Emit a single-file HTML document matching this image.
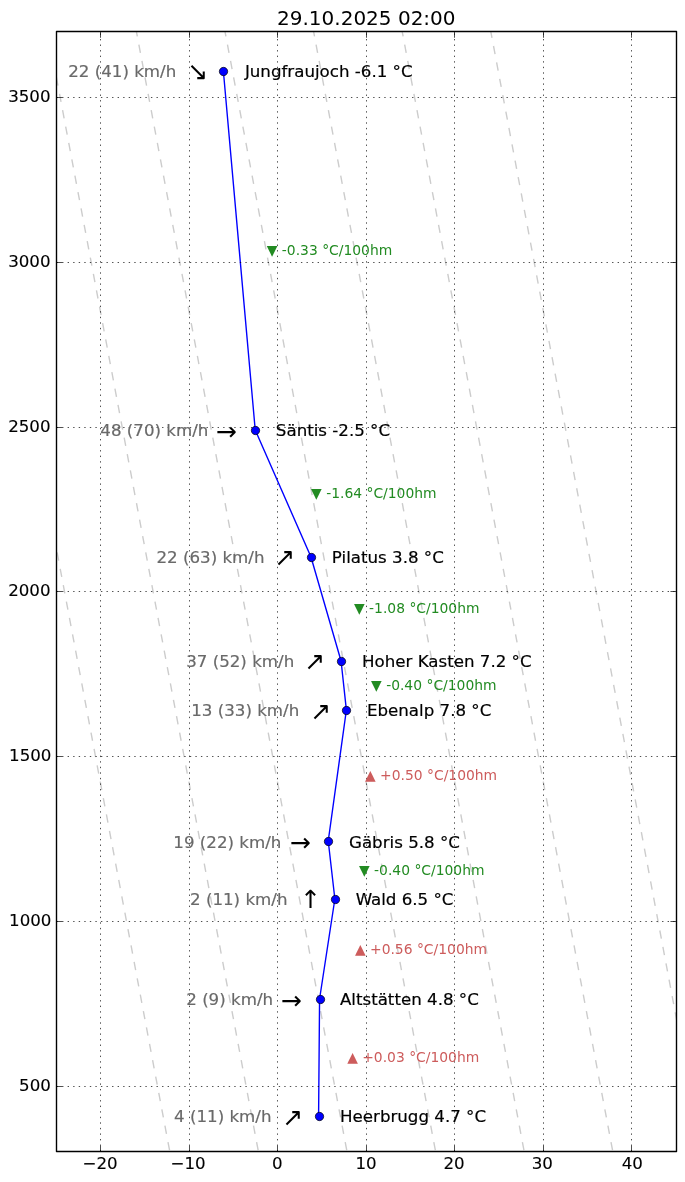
<!DOCTYPE html>
<html><head><meta charset="utf-8"><title>29.10.2025 02:00</title>
<style>html,body{margin:0;padding:0;background:#fff}svg{display:block;will-change:transform}</style></head>
<body>
<svg width="685" height="1182" viewBox="0 0 685 1182">
<rect x="0" y="0" width="685" height="1182" fill="#fff"/>
<defs><clipPath id="ax"><rect x="56" y="31" width="620" height="1120"/></clipPath></defs>
<g clip-path="url(#ax)" fill="none" stroke="#cccccc" stroke-width="1.3889" stroke-dasharray="8.3333 8.3333">
<path d="M175.697 1183.000L-59.450 -67.700"/>
<path d="M264.297 1183.000L29.150 -67.700"/>
<path d="M352.897 1183.000L117.750 -67.700"/>
<path d="M441.497 1183.000L206.350 -67.700"/>
<path d="M530.097 1183.000L294.950 -67.700"/>
<path d="M618.697 1183.000L383.550 -67.700"/>
<path d="M686.000 1069.727L472.150 -67.700"/>
</g>
<polyline clip-path="url(#ax)" points="223.365,70.987 255.225,430.010 310.980,556.999 341.070,660.989 346.380,709.986 328.238,840.995 334.875,898.987 319.565,998.990 318.591,1115.996" fill="none" stroke="#0000ff" stroke-width="1.3889" stroke-linejoin="round" stroke-linecap="square"/>
<g fill="none" stroke="#000" stroke-width="0.6944" stroke-dasharray="1.3889 4.1667">
<path d="M100.5 1151.5V31.5"/>
<path d="M189.5 1151.5V31.5"/>
<path d="M277.5 1151.5V31.5"/>
<path d="M366.5 1151.5V31.5"/>
<path d="M454.5 1151.5V31.5"/>
<path d="M543.5 1151.5V31.5"/>
<path d="M631.5 1151.5V31.5"/>
<path d="M56.5 1086.5H676.5"/>
<path d="M56.5 921.5H676.5"/>
<path d="M56.5 756.5H676.5"/>
<path d="M56.5 591.5H676.5"/>
<path d="M56.5 427.5H676.5"/>
<path d="M56.5 262.5H676.5"/>
<path d="M56.5 97.5H676.5"/>
</g>
<g fill="none" stroke="#000" stroke-width="0.6944">
<path d="M100.5 1151.5v-5.556M100.5 31.5v6.256"/>
<path d="M189.5 1151.5v-5.556M189.5 31.5v6.256"/>
<path d="M277.5 1151.5v-5.556M277.5 31.5v6.256"/>
<path d="M366.5 1151.5v-5.556M366.5 31.5v6.256"/>
<path d="M454.5 1151.5v-5.556M454.5 31.5v6.256"/>
<path d="M543.5 1151.5v-5.556M543.5 31.5v6.256"/>
<path d="M631.5 1151.5v-5.556M631.5 31.5v6.256"/>
<path d="M56.5 1086.5h5.556M676.5 1086.5h-6.056"/>
<path d="M56.5 921.5h5.556M676.5 921.5h-6.056"/>
<path d="M56.5 756.5h5.556M676.5 756.5h-6.056"/>
<path d="M56.5 591.5h5.556M676.5 591.5h-6.056"/>
<path d="M56.5 427.5h5.556M676.5 427.5h-6.056"/>
<path d="M56.5 262.5h5.556M676.5 262.5h-6.056"/>
<path d="M56.5 97.5h5.556M676.5 97.5h-6.056"/>
</g>
<rect x="56.5" y="31.5" width="620.0" height="1120.0" fill="none" stroke="#000" stroke-width="1.3889" stroke-linejoin="round"/>
<g fill="#0000ff" stroke="#000" stroke-width="0.6944">
<circle cx="223.5" cy="71.5" r="4.1667"/>
<circle cx="255.5" cy="430.5" r="4.1667"/>
<circle cx="311.5" cy="557.5" r="4.1667"/>
<circle cx="341.5" cy="661.5" r="4.1667"/>
<circle cx="346.5" cy="710.5" r="4.1667"/>
<circle cx="328.5" cy="841.5" r="4.1667"/>
<circle cx="335.5" cy="899.5" r="4.1667"/>
<circle cx="320.5" cy="999.5" r="4.1667"/>
<circle cx="319.5" cy="1116.5" r="4.1667"/>
</g>
<g style="font-family:'DejaVu Sans',sans-serif">
<text x="100.05" y="1169" font-size="16.6667" text-anchor="middle" fill="#000" stroke="#000" stroke-width="0.12">−20</text>
<text x="188.15" y="1169" font-size="16.6667" text-anchor="middle" fill="#000" stroke="#000" stroke-width="0.12">−10</text>
<text x="277.35" y="1169" font-size="16.6667" text-anchor="middle" fill="#000" stroke="#000" stroke-width="0.12">0</text>
<text x="366.10" y="1169" font-size="16.6667" text-anchor="middle" fill="#000" stroke="#000" stroke-width="0.12">10</text>
<text x="454.05" y="1169" font-size="16.6667" text-anchor="middle" fill="#000" stroke="#000" stroke-width="0.12">20</text>
<text x="542.35" y="1169" font-size="16.6667" text-anchor="middle" fill="#000" stroke="#000" stroke-width="0.12">30</text>
<text x="632.25" y="1169" font-size="16.6667" text-anchor="middle" fill="#000" stroke="#000" stroke-width="0.12">40</text>
<text x="50.84" y="1091" font-size="16.6667" text-anchor="end" fill="#000" stroke="#000" stroke-width="0.12">500</text>
<text x="51.44" y="926" font-size="16.6667" text-anchor="end" fill="#000" stroke="#000" stroke-width="0.12">1000</text>
<text x="51.44" y="761" font-size="16.6667" text-anchor="end" fill="#000" stroke="#000" stroke-width="0.12">1500</text>
<text x="50.54" y="596" font-size="16.6667" text-anchor="end" fill="#000" stroke="#000" stroke-width="0.12">2000</text>
<text x="50.54" y="432" font-size="16.6667" text-anchor="end" fill="#000" stroke="#000" stroke-width="0.12">2500</text>
<text x="50.54" y="267" font-size="16.6667" text-anchor="end" fill="#000" stroke="#000" stroke-width="0.12">3000</text>
<text x="50.54" y="102" font-size="16.6667" text-anchor="end" fill="#000" stroke="#000" stroke-width="0.12">3500</text>
<text x="366.32" y="25" font-size="20.0000" text-anchor="middle" fill="#000">29.10.2025 02:00</text>
<text x="244.90" y="77" font-size="16.6667" text-anchor="start" fill="#000" stroke="#000" stroke-width="0.19">Jungfraujoch -6.1 °C</text>
<text x="176.25" y="77" font-size="16.6667" text-anchor="end" fill="#696969" stroke="#696969" stroke-width="0.19">22 (41) km/h</text>
<text x="275.86" y="436" font-size="16.6667" text-anchor="start" fill="#000" stroke="#000" stroke-width="0.19">Säntis -2.5 °C</text>
<text x="208.35" y="436" font-size="16.6667" text-anchor="end" fill="#696969" stroke="#696969" stroke-width="0.19">48 (70) km/h</text>
<text x="331.86" y="563" font-size="16.6667" text-anchor="start" fill="#000" stroke="#000" stroke-width="0.19">Pilatus 3.8 °C</text>
<text x="264.50" y="563" font-size="16.6667" text-anchor="end" fill="#696969" stroke="#696969" stroke-width="0.19">22 (63) km/h</text>
<text x="362.04" y="667" font-size="16.6667" text-anchor="start" fill="#000" stroke="#000" stroke-width="0.19">Hoher Kasten 7.2 °C</text>
<text x="294.20" y="667" font-size="16.6667" text-anchor="end" fill="#696969" stroke="#696969" stroke-width="0.19">37 (52) km/h</text>
<text x="366.94" y="716" font-size="16.6667" text-anchor="start" fill="#000" stroke="#000" stroke-width="0.19">Ebenalp 7.8 °C</text>
<text x="299.27" y="716" font-size="16.6667" text-anchor="end" fill="#696969" stroke="#696969" stroke-width="0.19">13 (33) km/h</text>
<text x="349.00" y="848" font-size="16.6667" text-anchor="start" fill="#000" stroke="#000" stroke-width="0.19">Gäbris 5.8 °C</text>
<text x="281.37" y="848" font-size="16.6667" text-anchor="end" fill="#696969" stroke="#696969" stroke-width="0.19">19 (22) km/h</text>
<text x="355.63" y="905" font-size="16.6667" text-anchor="start" fill="#000" stroke="#000" stroke-width="0.19">Wald 6.5 °C</text>
<text x="287.46" y="905" font-size="16.6667" text-anchor="end" fill="#696969" stroke="#696969" stroke-width="0.19">2 (11) km/h</text>
<text x="339.91" y="1005" font-size="16.6667" text-anchor="start" fill="#000" stroke="#000" stroke-width="0.19">Altstätten 4.8 °C</text>
<text x="273.07" y="1005" font-size="16.6667" text-anchor="end" fill="#696969" stroke="#696969" stroke-width="0.19">2 (9) km/h</text>
<text x="340.02" y="1122" font-size="16.6667" text-anchor="start" fill="#000" stroke="#000" stroke-width="0.19">Heerbrugg 4.7 °C</text>
<text x="271.48" y="1122" font-size="16.6667" text-anchor="end" fill="#696969" stroke="#696969" stroke-width="0.19">4 (11) km/h</text>
<text x="266.77" y="255" font-size="13.8889" text-anchor="start" fill="#228b22">▼ -0.33 °C/100hm</text>
<text x="311.08" y="498" font-size="13.8889" text-anchor="start" fill="#228b22">▼ -1.64 °C/100hm</text>
<text x="354.00" y="613" font-size="13.8889" text-anchor="start" fill="#228b22">▼ -1.08 °C/100hm</text>
<text x="371.05" y="690" font-size="13.8889" text-anchor="start" fill="#228b22">▼ -0.40 °C/100hm</text>
<text x="365.02" y="780" font-size="13.8889" text-anchor="start" fill="#cd5c5c">▲ +0.50 °C/100hm</text>
<text x="359.03" y="875" font-size="13.8889" text-anchor="start" fill="#228b22">▼ -0.40 °C/100hm</text>
<text x="354.93" y="954" font-size="13.8889" text-anchor="start" fill="#cd5c5c">▲ +0.56 °C/100hm</text>
<text x="347.16" y="1062" font-size="13.8889" text-anchor="start" fill="#cd5c5c">▲ +0.03 °C/100hm</text>
<text x="197.36" y="80" font-size="25" text-anchor="middle">↘</text>
<text x="226.19" y="440" font-size="25" text-anchor="middle">→</text>
<text x="284.48" y="566" font-size="25" text-anchor="middle">↗</text>
<text x="314.48" y="670" font-size="25" text-anchor="middle">↗</text>
<text x="320.38" y="720" font-size="25" text-anchor="middle">↗</text>
<text x="300.19" y="851" font-size="25" text-anchor="middle">→</text>
<text x="310.70" y="908" font-size="25" text-anchor="middle">↑</text>
<text x="291.19" y="1009" font-size="25" text-anchor="middle">→</text>
<text x="292.48" y="1126" font-size="25" text-anchor="middle">↗</text>
</g>
</svg>
</body></html>
